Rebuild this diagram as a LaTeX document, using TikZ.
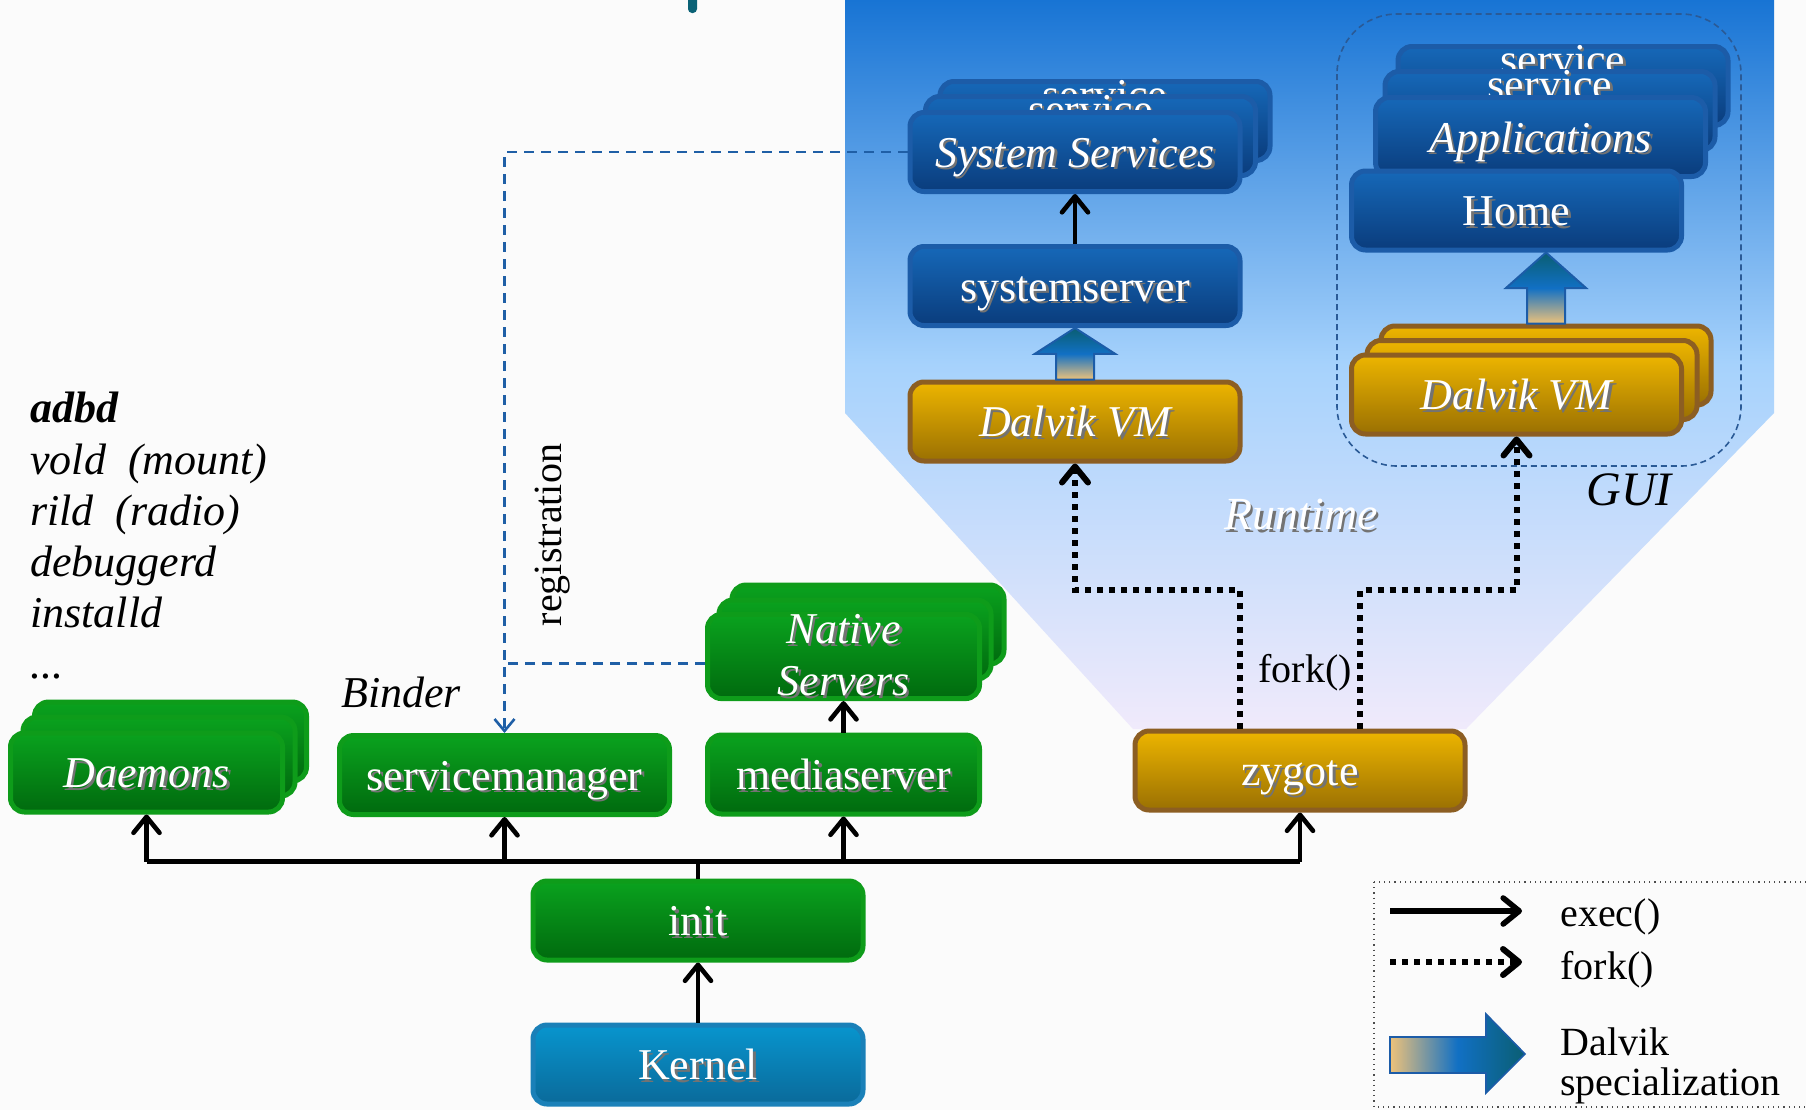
\documentclass[tikz,border=0pt]{standalone}
\usepackage{fontspec}
\setmainfont{Liberation Serif}
\usetikzlibrary{arrows.meta,calc}

\definecolor{grntop}{HTML}{0AA21E}
\definecolor{grnbot}{HTML}{006A0E}
\definecolor{grnline}{HTML}{0E9C1A}
\definecolor{blutop}{HTML}{1668B8}
\definecolor{blubot}{HTML}{0A3C7C}
\definecolor{bluline}{HTML}{1C5CA8}
\definecolor{gldtop}{HTML}{EDB500}
\definecolor{gldbot}{HTML}{9A7002}
\definecolor{gldline}{HTML}{8C5E22}
\definecolor{krntop}{HTML}{0895CE}
\definecolor{krnbot}{HTML}{0A6A9A}
\definecolor{krnline}{HTML}{1A80B8}
\definecolor{rtop}{HTML}{1874D4}
\definecolor{rmid}{HTML}{A6D2FC}
\definecolor{rbot}{HTML}{F0EAFB}
\definecolor{regblue}{HTML}{1F5FA6}
\definecolor{guiblue}{HTML}{2A5A96}
\definecolor{dsbot}{HTML}{EEC27A}
\definecolor{dsmid}{HTML}{1170C4}
\definecolor{dstop}{HTML}{0A5E72}
\definecolor{titleteal}{HTML}{0B6276}
\definecolor{paper}{HTML}{FBFBFB}

\newcommand\boxfont{\fontsize{22}{26}\selectfont}
\newcommand\shtext[1]{\leavevmode\rlap{\kern1.3pt\raisebox{-1.3pt}{\textcolor{black!55}{#1}}}#1}
\newcommand\dspecup[2]{%
  \path[dspec] let \p1=(#1), \p2=(#2) in
    (\x1-9.5pt,\y1) -- (\x1-9.5pt,{(\y1+\y2)/2}) -- (\x1-20pt,{(\y1+\y2)/2}) -- (\x1,\y2)
    -- (\x1+20pt,{(\y1+\y2)/2}) -- (\x1+9.5pt,{(\y1+\y2)/2}) -- (\x1+9.5pt,\y1) -- cycle;}

\tikzset{
  box/.style={rounded corners=7pt, line width=2.5pt, minimum width=165pt,
    minimum height=39.5pt, inner sep=0pt, text=white, font=\boxfont,
    text height=16pt, text depth=1pt},
  narrowbox/.style={minimum width=136pt},
  itbox/.style={font=\boxfont\itshape},
  greenbox/.style={box, draw=grnline, top color=grntop, bottom color=grnbot},
  bluebox/.style={box, draw=bluline, top color=blutop, bottom color=blubot},
  goldbox/.style={box, draw=gldline, top color=gldtop, bottom color=gldbot},
  kernbox/.style={box, draw=krnline, top color=krntop, bottom color=krnbot},
  svclabel/.style={label={[label distance=-15pt, anchor=base, text=white,
    font=\boxfont]north:\shtext{service}}},
  barb/.style={-{Straight Barb[length=8pt,width=13pt,round]}},
  execline/.style={line width=2.3pt},
  exec/.style={execline, barb},
  forkarrow/.style={line width=3pt, dash pattern=on 3pt off 3pt, barb},
  regline/.style={draw=regblue, line width=1.3pt, dash pattern=on 5pt off 3.5pt},
  dspec/.style={draw=bluline, line width=1pt, top color=dstop, bottom color=dsbot,
    middle color=dsmid}
}

\begin{document}
\begin{tikzpicture}[x=0.5pt,y=-0.5pt]
\useasboundingbox (0,0) rectangle (1806,1110);
\fill[paper] (0,0) rectangle (1806,1110);
\clip (0,0) rectangle (1806,1110);

\shade[top color=rtop, bottom color=rbot, middle color=rmid]
  (845,0) -- (1774,0) -- (1774,413) -- (1466,729) -- (1133,729) -- (845,413) -- cycle;
\fill[titleteal, rounded corners=2pt] (688,-6) rectangle (697,13);
\draw[guiblue, line width=0.8pt, dash pattern=on 3pt off 2pt, rounded corners=30pt]
  (1337,14) rectangle (1741,466);

\node[bluebox, svclabel] (ss3) at (1105,121) {};
\node[bluebox, svclabel] (ss2) at (1090.5,136) {};
\node[bluebox, itbox] (ss) at (1075,152) {\shtext{System Services}};
\node[bluebox] (sysrv) at (1075,286) {\shtext{systemserver}};
\node[goldbox, itbox] (dvmL) at (1075,421.5) {\shtext{Dalvik VM}};

\node[bluebox, svclabel] (app3) at (1563,86) {};
\node[bluebox, svclabel] (app2) at (1550,111) {};
\node[bluebox, itbox] (apps) at (1540.5,137) {\shtext{Applications}};
\node[bluebox] (home) at (1516.5,210.5) {\shtext{Home}};
\node[goldbox] (dvmR3) at (1546,365.5) {};
\node[goldbox] (dvmR2) at (1532,380) {};
\node[goldbox, itbox] (dvmR) at (1516.5,394.5) {\shtext{Dalvik VM}};

\node[goldbox] (zygote) at (1300,770.5) {\shtext{zygote}};

\node[greenbox, narrowbox] (dmn3) at (170.5,741.5) {};
\node[greenbox, narrowbox] (dmn2) at (159,756.5) {};
\node[greenbox, narrowbox, itbox] (dmn) at (146.5,772.5) {\shtext{Daemons}};
\node[greenbox] (sm) at (504.5,775) {\shtext{servicemanager}};
\node[greenbox, narrowbox] (ms) at (843.5,774.5) {\shtext{mediaserver}};
\node[greenbox, narrowbox] (ns3) at (868,624.5) {};
\node[greenbox, narrowbox] (ns2) at (855,639.5) {};
\node[greenbox, narrowbox, itbox, align=center, text height=, text depth=] (ns)
  at (843.5,656.5) {\shtext{Native}\\\shtext{Servers}};
\node[greenbox] (init) at (698,920.5) {\shtext{init}};
\node[kernbox] (kernel) at (698,1064.5) {\shtext{Kernel}};

\draw[exec] (sysrv.north) -- (ss.south);
\dspecup{dvmL.north}{sysrv.south}
\dspecup{dvmR3.north}{home.south}

\coordinate (forklvl) at (0,590);
\draw[forkarrow] ([xshift=-30pt]zygote.north) |- (forklvl -| dvmL.south) -- (dvmL.south);
\draw[forkarrow] ([xshift=30pt]zygote.north) |- (forklvl -| dvmR.south) -- (dvmR.south);

\draw[exec] (kernel.north) -- (init.south);
\coordinate (bus) at (698,861.5);
\draw[execline] (init.north) -- (bus);
\draw[execline] (bus -| dmn.south) -- (bus -| zygote.south);
\foreach \n in {dmn,sm,ms,zygote}
  \draw[exec] (bus -| \n.south) -- (\n.south);
\draw[exec] (ms.north) -- (ns.south);

\draw[regline, -{Straight Barb[length=6pt,width=10pt]}] (ss.west) -| (sm.north);
\draw[regline] ([yshift=-3.5pt]ns.west) -- ([yshift=-3.5pt]ns.west -| sm.north);

\node[rotate=90, font=\fontsize{20}{24}\selectfont] (regl) at (553,535) {registration};
\node[font=\boxfont\itshape] (binder) at (401,692) {Binder};
\node[font=\fontsize{23}{26}\selectfont\itshape, text=white] (rt) at (1301,516)
  {\shtext{Runtime}};
\node[font=\fontsize{24}{28}\selectfont\itshape] (gui) at (1629,490) {GUI};
\node[font=\fontsize{20}{24}\selectfont] (forkl) at (1305,673) {fork()};

\node[anchor=north west, align=left, inner sep=0pt,
  font=\fontsize{22}{25.6}\selectfont\itshape] (dmnlist) at (30,392)
  {\textbf{adbd}\\vold\ \ (mount)\\rild\ \ (radio)\\debuggerd\\installd\\...};

\draw[black!70, dotted, line width=0.6pt] (1374,882) rectangle (1815,1107);
\coordinate (lgexA) at (1390,911);
\coordinate (lgexB) at (1522,911);
\coordinate (lgfkA) at (1390,962);
\coordinate (lgfkB) at (1522,962);
\draw[exec, line width=2.8pt] (lgexA) -- (lgexB);
\draw[forkarrow] (lgfkA) -- (lgfkB);
\draw[draw=bluline, line width=0.8pt, left color=dsbot, right color=dstop, middle color=dsmid]
  (1390,1037) -- (1486,1037) -- (1486,1014) -- (1525,1054) -- (1486,1093)
  -- (1486,1073) -- (1390,1073) -- cycle;
\node[anchor=west, inner sep=0pt, font=\fontsize{20}{24}\selectfont] (lgex) at (1560,917) {exec()};
\node[anchor=west, inner sep=0pt, font=\fontsize{20}{24}\selectfont] (lgfk) at (1560,970) {fork()};
\node[anchor=north west, align=left, inner sep=0pt, font=\fontsize{20}{20}\selectfont]
  (lgdv) at (1560,1027) {Dalvik\\specialization};
\end{tikzpicture}
\end{document}
